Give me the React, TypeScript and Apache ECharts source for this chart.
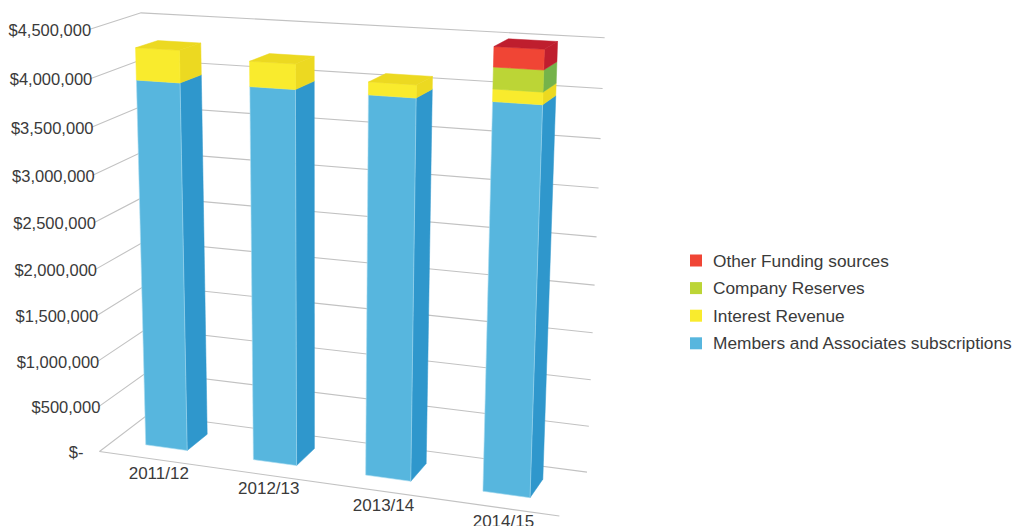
import React, { useEffect, useRef } from "react";
import * as echarts from "echarts";

const categories = ["2011/12", "2012/13", "2013/14", "2014/15"];
const members = [3950000, 3960000, 3955000, 3970000];
const interest = [330000, 253000, 127000, 120000];
const reserves = [0, 0, 0, 210000];
const other = [0, 0, 0, 195000];
const ticks = [0, 500000, 1000000, 1500000, 2000000, 2500000, 3000000, 3500000, 4000000, 4500000];
const tickLabels = ["$-", "$500,000", "$1,000,000", "$1,500,000", "$2,000,000", "$2,500,000", "$3,000,000", "$3,500,000", "$4,000,000", "$4,500,000"];
const MAX = 4500000;

const TEXT = "#3a3a3a";
const FONT = "Liberation Sans";
const GRID = { left: 0, top: 0, width: 1000, height: 500 };
const BAR_W = 0.39;
const Z0 = 0.29;
const Z1 = 0.71;

// Camera: world (x, y, z) in the unit box -> page pixel, from the box's visible corners
const wallCorners: number[][] = [
  [0, 0, 0, 98, 452],
  [0, 1, 0, 92, 28],
  [0, 0, 1, 150, 414],
  [0, 1, 1, 138, 14],
  [1, 1, 1, 605, 38],
  [1, 0, 1, 588, 471],
  [1, 0, 0, 558, 517],
];
// The bars lean a little more than the walls in the picture
const barCorners: number[][] = wallCorners.map((c, i) => (i === 1 ? [0, 1, 0, 86, 28] : c));

function solveCamera(corners: number[][]): number[] {
  const rows: number[][] = [];
  const rhs: number[] = [];
  for (const [x, y, z, u, v] of corners) {
    rows.push([x, y, z, 1, 0, 0, 0, 0, -u * x, -u * y, -u * z]);
    rhs.push(u);
    rows.push([0, 0, 0, 0, x, y, z, 1, -v * x, -v * y, -v * z]);
    rhs.push(v);
  }
  const n = 11;
  const M: number[][] = [];
  for (let i = 0; i < n; i++) {
    const r: number[] = [];
    for (let j = 0; j < n; j++) r.push(rows.reduce((s, a) => s + a[i] * a[j], 0));
    r.push(rows.reduce((s, a, k) => s + a[i] * rhs[k], 0));
    M.push(r);
  }
  for (let c = 0; c < n; c++) {
    let best = c;
    for (let r = c + 1; r < n; r++) if (Math.abs(M[r][c]) > Math.abs(M[best][c])) best = r;
    [M[c], M[best]] = [M[best], M[c]];
    for (let r = 0; r < n; r++) {
      if (r === c) continue;
      const f = M[r][c] / M[c][c];
      for (let k = c; k <= n; k++) M[r][k] -= f * M[c][k];
    }
  }
  return M.map((r, i) => r[n] / r[i]);
}
const wallCam = solveCamera(wallCorners);
const barCam = solveCamera(barCorners);
function projectWith(cam: number[], x: number, y: number, z: number): number[] {
  const w = cam[8] * x + cam[9] * y + cam[10] * z + 1;
  return [(cam[0] * x + cam[1] * y + cam[2] * z + cam[3]) / w, (cam[4] * x + cam[5] * y + cam[6] * z + cam[7]) / w];
}
const project = (x: number, y: number, z: number) => projectWith(wallCam, x, y, z);
const projectBar = (x: number, y: number, z: number) => projectWith(barCam, x, y, z);
const normX = (px: number) => (px - GRID.left) / GRID.width;
const normY = (py: number) => 1 - (py - GRID.top) / GRID.height;

function barItem(front: string, side: string, top: string, edge: string) {
  return (_: any, api: any) => {
    const cat = api.value(0);
    const low = api.value(1);
    const high = api.value(2);
    if (high <= low) return null;
    const isTop = api.value(3) === 1;
    const c0 = api.coord([cat, low]);
    const c1 = api.coord([cat, high]);
    const band = api.size([1, 0])[0] / GRID.width;
    const cx = normX(c0[0]);
    const xa = cx - (band * BAR_W) / 2;
    const xb = cx + (band * BAR_W) / 2;
    const y0 = normY(c0[1]);
    const y1 = normY(c1[1]);
    const children: any[] = [
      {
        type: "polygon",
        shape: { points: [projectBar(xb, y0, Z0), projectBar(xb, y0, Z1), projectBar(xb, y1, Z1), projectBar(xb, y1, Z0)] },
        style: { fill: side, stroke: side, lineWidth: 0.5 },
      },
      {
        type: "polygon",
        shape: { points: [projectBar(xa, y0, Z0), projectBar(xb, y0, Z0), projectBar(xb, y1, Z0), projectBar(xa, y1, Z0)] },
        style: { fill: front, stroke: edge, lineWidth: 0.6 },
      },
    ];
    if (isTop) {
      children.push({
        type: "polygon",
        shape: { points: [projectBar(xa, y1, Z0), projectBar(xb, y1, Z0), projectBar(xb, y1, Z1), projectBar(xa, y1, Z1)] },
        style: { fill: top, stroke: side, lineWidth: 0.5 },
      });
    }
    return { type: "group", children };
  };
}

const stacks = [members, interest, reserves, other];
function rowsFor(level: number) {
  return categories.map((_, i) => {
    const low = stacks.slice(0, level).reduce((s, a) => s + a[i], 0);
    const high = low + stacks[level][i];
    const above = stacks.slice(level + 1).reduce((s, a) => s + a[i], 0);
    return [i, low, high, above === 0 ? 1 : 0];
  });
}

function renderTick(_: any, api: any) {
  const idx = api.value(0);
  const value = api.value(1);
  const y = normY(api.coord([0, value])[1]);
  const a = project(0, y, 0);
  const b = project(0, y, 1);
  const c = project(1, y, 1);
  const dx = value === 0 ? 16 : -2;
  return {
    type: "group",
    children: [
      { type: "polyline", shape: { points: [a, b, c] }, style: { stroke: "#c2c2c2", lineWidth: 1.1, fill: "none" } },
      {
        type: "text",
        x: a[0] - dx,
        y: a[1] + 0.3,
        style: { text: tickLabels[idx], align: "right", verticalAlign: "middle", fill: TEXT, fontSize: 16.5, fontFamily: FONT },
      },
    ],
  };
}
function renderCategory(_: any, api: any) {
  const i = api.value(0);
  const c = api.coord([i, 0]);
  const p = project(normX(c[0]), 0, 0);
  return {
    type: "group",
    children: [
      {
        type: "text",
        x: p[0] + 6,
        y: p[1] + 14.5,
        style: { text: categories[i], align: "center", verticalAlign: "middle", fill: TEXT, fontSize: 17, fontFamily: FONT },
      },
    ],
  };
}
function renderFloorEdge() {
  const a = project(0, 0, 0);
  const b = project(1, 0, 0);
  return { type: "line", shape: { x1: a[0], y1: a[1], x2: b[0], y2: b[1] }, style: { stroke: "#c2c2c2", lineWidth: 1.1 } };
}

export default function App() {
  const ref = useRef<HTMLDivElement>(null);
  useEffect(() => {
    const chart = echarts.init(ref.current!, undefined, { renderer: "svg" });
    chart.setOption({
      animation: false,
      backgroundColor: "#ffffff",
      grid: { ...GRID, containLabel: false },
      xAxis: { type: "category", data: categories, show: false },
      yAxis: { type: "value", min: 0, max: MAX, interval: 500000, show: false },
      legend: {
        orient: "vertical",
        left: 685,
        top: 247,
        itemWidth: 12,
        itemHeight: 12,
        itemGap: 10.6,
        icon: "rect",
        selectedMode: false,
        textStyle: { color: TEXT, fontSize: 17.3, fontFamily: FONT, padding: [0, 0, 0, 6] },
        data: ["Other Funding sources", "Company Reserves", "Interest Revenue", "Members and Associates subscriptions"],
      },
      series: [
        { type: "custom", name: "gridlines", silent: true, data: ticks.map((t, i) => [i, t]), renderItem: renderTick, z: 1 },
        { type: "custom", name: "floor", silent: true, data: [[0]], renderItem: renderFloorEdge, z: 1 },
        { type: "custom", name: "categories", silent: true, data: categories.map((_, i) => [i]), renderItem: renderCategory, z: 1 },
        { type: "custom", name: "Members and Associates subscriptions", data: rowsFor(0), itemStyle: { color: "#57b6de" }, renderItem: barItem("#57b6de", "#2f97cc", "#2f97cc", "#a9dcf0"), z: 2 },
        { type: "custom", name: "Interest Revenue", data: rowsFor(1), itemStyle: { color: "#f9eb2d" }, renderItem: barItem("#f9eb2d", "#ecd921", "#ecd921", "#f9eb2d"), z: 3 },
        { type: "custom", name: "Company Reserves", data: rowsFor(2), itemStyle: { color: "#bcd536" }, renderItem: barItem("#bcd536", "#75b34a", "#75b34a", "#bcd536"), z: 4 },
        { type: "custom", name: "Other Funding sources", data: rowsFor(3), itemStyle: { color: "#f04535" }, renderItem: barItem("#f04535", "#bf1e2e", "#bf1e2e", "#f04535"), z: 5 },
      ],
    });
    return () => chart.dispose();
  }, []);
  return <div ref={ref} style={{ position: "absolute", left: 0, top: 0, width: 1013, height: 526 }} />;
}
